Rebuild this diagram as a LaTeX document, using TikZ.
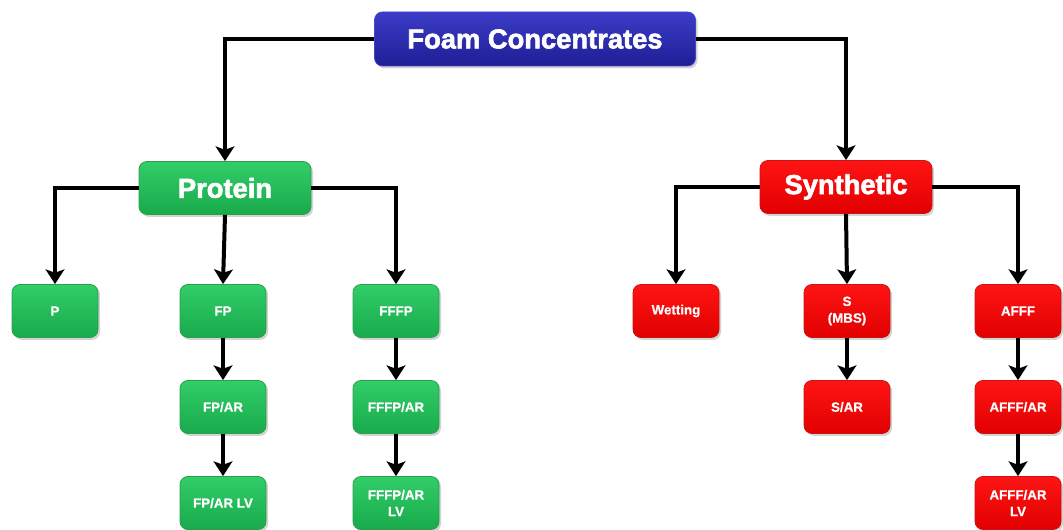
\documentclass[tikz,border=0pt]{standalone}
\usepackage{fontspec}
\setmainfont{Liberation Sans}
\newfontfamily\heavyfont[FakeBold=2.2]{Liberation Sans Bold}
\newfontfamily\smallfont[FakeBold=0.6]{Liberation Sans Bold}
\usetikzlibrary{arrows.meta,shadows}
\definecolor{bluetop}{RGB}{60,60,200}
\definecolor{bluebot}{RGB}{30,30,150}
\definecolor{blueedge}{RGB}{70,70,190}
\definecolor{greentop}{RGB}{50,205,105}
\definecolor{greenbot}{RGB}{25,170,75}
\definecolor{greenedge}{RGB}{40,160,80}
\definecolor{redtop}{RGB}{255,20,20}
\definecolor{redbot}{RGB}{225,0,0}
\definecolor{rededge}{RGB}{200,20,20}
\tikzset{
  x=0.75pt, y=-0.75pt,
  boxbase/.style={rectangle, rounded corners=6pt, text=white, align=center,
    drop shadow={shadow xshift=1.5pt, shadow yshift=-1.8pt, opacity=0.35}, line width=0.6pt, inner sep=2pt},
  topbox/.style={boxbase, top color=bluetop, bottom color=bluebot, draw=blueedge,
    minimum width=240.75pt, minimum height=40.5pt, font=\heavyfont\fontsize{20.5}{24}\selectfont},
  gmid/.style={boxbase, top color=greentop, bottom color=greenbot, draw=greenedge,
    minimum width=129pt, minimum height=39.75pt, font=\heavyfont\fontsize{20.5}{24}\selectfont},
  rmid/.style={boxbase, top color=redtop, bottom color=redbot, draw=rededge,
    minimum width=129pt, minimum height=39.75pt, font=\heavyfont\fontsize{20.5}{24}\selectfont},
  gsmall/.style={boxbase, top color=greentop, bottom color=greenbot, draw=greenedge,
    minimum width=64.5pt, minimum height=39.75pt, font=\smallfont\fontsize{10}{12.5}\selectfont},
  rsmall/.style={boxbase, top color=redtop, bottom color=redbot, draw=rededge,
    minimum width=64.5pt, minimum height=39.75pt, font=\smallfont\fontsize{10}{12.5}\selectfont},
  conn/.style={line width=3pt, -{Stealth[length=11pt,width=14pt,inset=2.5pt]}, black},
}
\begin{document}
\begin{tikzpicture}
\useasboundingbox (0,0) rectangle (1063,530);
\node[topbox] (top) at (535,39) {Foam Concentrates};
\node[gmid] (prot) at (225,188) {Protein};
\node[rmid] (syn) at (846,187) {Synthetic};

\node[gsmall] (p) at (55,311) {P};
\node[gsmall] (fp) at (223,311) {FP};
\node[gsmall] (fffp) at (396,311) {FFFP};
\node[gsmall] (fpar) at (223,407) {FP/AR};
\node[gsmall] (fffpar) at (396,407) {FFFP/AR};
\node[gsmall] (fparlv) at (223,503) {FP/AR LV};
\node[gsmall] (fffparlv) at (396,503) {FFFP/AR\\LV};

\node[rsmall] (wet) at (676,311) {Wetting};
\node[rsmall] (s) at (847,311) {S\\(MBS)};
\node[rsmall] (afff) at (1018,311) {AFFF};
\node[rsmall] (sar) at (847,407) {S/AR};
\node[rsmall] (afffar) at (1018,407) {AFFF/AR};
\node[rsmall] (afffarlv) at (1018,503) {AFFF/AR\\LV};

\draw[conn] (top.west) -| (prot.north);
\draw[conn] (top.east) -| (syn.north);

\draw[conn] (prot.west) -| (p.north);
\draw[conn] (prot.south) -- (fp.north);
\draw[conn] (prot.east) -| (fffp.north);
\draw[conn] (fp) -- (fpar);
\draw[conn] (fpar) -- (fparlv);
\draw[conn] (fffp) -- (fffpar);
\draw[conn] (fffpar) -- (fffparlv);

\draw[conn] (syn.west) -| (wet.north);
\draw[conn] (syn.south) -- (s.north);
\draw[conn] (syn.east) -| (afff.north);
\draw[conn] (s) -- (sar);
\draw[conn] (afff) -- (afffar);
\draw[conn] (afffar) -- (afffarlv);
\end{tikzpicture}
\end{document}
